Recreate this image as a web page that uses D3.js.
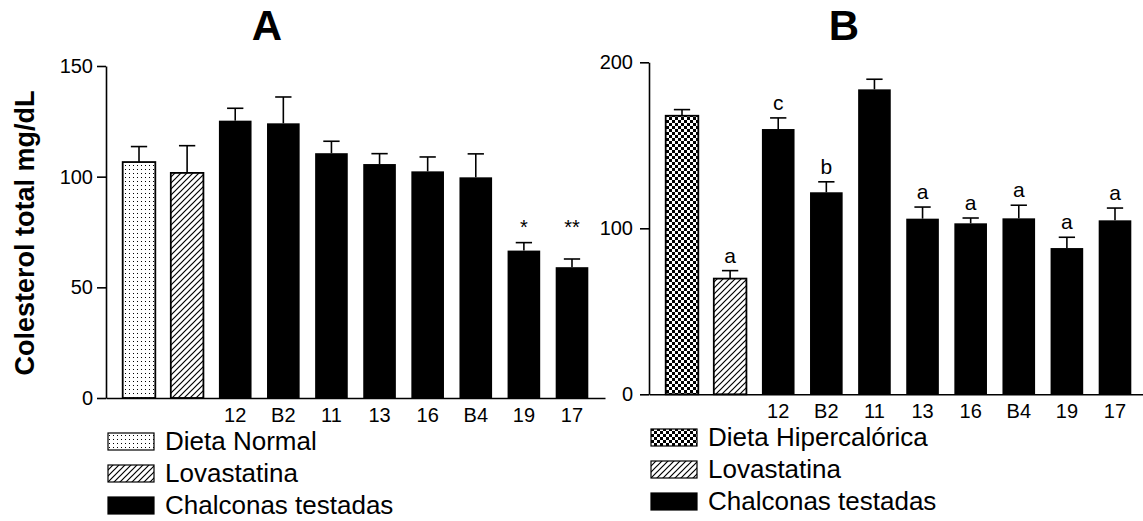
<!DOCTYPE html>
<html>
<head>
<meta charset="utf-8">
<script src="https://cdn.jsdelivr.net/npm/d3@7"></script>
<style>
  body { margin: 0; background: #fff; }
  text { font-family: "Liberation Sans", Arial, sans-serif; fill: #000; }
</style>
</head>
<body>
<div id="chart"></div>
<script>
// panel A: normal diet
const groupsA = ["Dieta Normal", "Lovastatina", "12", "B2", "11", "13", "16", "B4", "19", "17"]
const meansA = [106.6, 101.7, 125.3, 124.1, 110.6, 105.7, 102.4, 99.7, 66.6, 59.1]
const semA = [7.0, 12.3, 5.6, 11.9, 5.4, 4.7, 6.5, 10.6, 3.6, 3.7]
const fillA = ["dots", "hatch", "solid", "solid", "solid", "solid", "solid", "solid", "solid", "solid"]
const ticksA = [0, 50, 100, 150]
const starsA = [["19", "*"], ["17", "**"]]
const starLevelA = 74
const legendA = ["Dieta Normal", "Lovastatina", "Chalconas testadas"]

// panel B: hypercaloric diet
const groupsB = ["Dieta Hipercalórica", "Lovastatina", "12", "B2", "11", "13", "16", "B4", "19", "17"]
const meansB = [167.8, 69.7, 159.8, 121.7, 183.7, 105.8, 103.0, 106.0, 88.1, 104.8]
const semB = [3.7, 4.8, 6.7, 6.3, 6.1, 7.0, 3.2, 7.9, 6.5, 7.4]
const fillB = ["checker", "hatch", "solid", "solid", "solid", "solid", "solid", "solid", "solid", "solid"]
const ticksB = [0, 100, 200]
const lettersB = ["", "a", "c", "b", "", "a", "a", "a", "a", "a"]
const legendB = ["Dieta Hipercalórica", "Lovastatina", "Chalconas testadas"]

const width = 1143, height = 521

const svg = d3.select("#chart").append("svg")
    .attr("width", width)
    .attr("height", height)

const defs = svg.append("defs")

const dots = defs.append("pattern").attr("id", "dots")
    .attr("patternUnits", "userSpaceOnUse").attr("width", 4).attr("height", 4)
dots.append("rect").attr("width", 4).attr("height", 4).attr("fill", "#fff")
dots.append("rect").attr("x", 1).attr("y", 1).attr("width", 1).attr("height", 1).attr("fill", "#000")

const hatch = defs.append("pattern").attr("id", "hatch")
    .attr("patternUnits", "userSpaceOnUse").attr("width", 6).attr("height", 6)
hatch.append("rect").attr("width", 6).attr("height", 6).attr("fill", "#fff")
hatch.append("path")
    .attr("d", "M0,6L6,0M-1.5,1.5L1.5,-1.5M4.5,7.5L7.5,4.5")
    .attr("stroke", "#000").attr("stroke-width", 1.2)

const checker = defs.append("pattern").attr("id", "checker")
    .attr("patternUnits", "userSpaceOnUse").attr("width", 6).attr("height", 6)
checker.append("rect").attr("width", 6).attr("height", 6).attr("fill", "#fff")
checker.append("rect").attr("width", 3).attr("height", 3).attr("fill", "#000")
checker.append("rect").attr("x", 3).attr("y", 3).attr("width", 3).attr("height", 3).attr("fill", "#000")

const fillOf = f => f === "solid" ? "#000" : `url(#${f})`

function drawPanel(p) {
    const g = svg.append("g")

    const x = d3.scaleBand()
        .domain(p.groups)
        .range([p.left, p.right])
        .paddingInner(0.322)
        .paddingOuter(0.347)

    const y = d3.scaleLinear()
        .domain([0, p.max])
        .range([p.bottom, p.top])

    const data = p.groups.map((k, i) => ({ key: k, mean: p.means[i], sem: p.sem[i], fill: p.fills[i], i: i }))

    // bars
    g.selectAll(".bar")
        .data(data)
        .enter().append("rect")
        .attr("class", "bar")
        .attr("x", d => x(d.key))
        .attr("y", d => y(d.mean))
        .attr("width", x.bandwidth())
        .attr("height", d => y(0) - y(d.mean))
        .attr("fill", d => fillOf(d.fill))
        .attr("stroke", "#000")
        .attr("stroke-width", d => d.fill === "solid" ? 0 : 1.8)

    // upper error bars
    const err = g.selectAll(".err")
        .data(data)
        .enter().append("g")
        .attr("class", "err")
        .attr("stroke", "#000")
        .attr("stroke-width", 1.6)
    err.append("line")
        .attr("x1", d => x(d.key) + x.bandwidth() / 2)
        .attr("x2", d => x(d.key) + x.bandwidth() / 2)
        .attr("y1", d => y(d.mean))
        .attr("y2", d => y(d.mean + d.sem))
    err.append("line")
        .attr("x1", d => x(d.key) + x.bandwidth() / 4)
        .attr("x2", d => x(d.key) + x.bandwidth() * 3 / 4)
        .attr("y1", d => y(d.mean + d.sem))
        .attr("y2", d => y(d.mean + d.sem))

    // y axis
    const yAxis = g.append("g")
        .attr("transform", `translate(${p.left},0)`)
        .call(d3.axisLeft(y).tickValues(p.ticks).tickSize(9).tickSizeOuter(0).tickPadding(p.tickPad))
    yAxis.selectAll("text").attr("font-size", 20).style("font-family", "Liberation Sans, Arial, sans-serif")

    // x axis, only the chalcones get labels
    const xAxis = g.append("g")
        .attr("transform", `translate(0,${p.bottom})`)
        .call(d3.axisBottom(x).tickSize(0).tickSizeOuter(0).tickPadding(10)
            .tickFormat((d, i) => p.fills[i] === "solid" ? d : ""))
    xAxis.selectAll("text").attr("font-size", 20).style("font-family", "Liberation Sans, Arial, sans-serif")

    svg.selectAll(".domain, .tick line").attr("stroke", "#000").attr("stroke-width", 1.6)

    // title
    g.append("text")
        .attr("x", p.titleX)
        .attr("y", 40)
        .attr("text-anchor", "middle")
        .attr("font-size", 42)
        .attr("font-weight", "bold")
        .text(p.title)

    // legend
    const legend = g.selectAll(".legend")
        .data(p.legend)
        .enter().append("g")
        .attr("class", "legend")
        .attr("transform", (d, i) => `translate(${p.left + 2},${p.legendY + i * 32})`)
    legend.append("rect")
        .attr("x", 0)
        .attr("y", -17)
        .attr("width", 46)
        .attr("height", 17)
        .attr("fill", (d, i) => fillOf(p.legendFills[i]))
        .attr("stroke", "#000")
        .attr("stroke-width", 1.2)
    legend.append("text")
        .attr("x", 57)
        .attr("y", 0)
        .attr("font-size", 26)
        .text(d => d)

    return { g, x, y, data }
}

const A = drawPanel({
    groups: groupsA, means: meansA, sem: semA, fills: fillA, ticks: ticksA,
    left: 106, right: 605, top: 66, bottom: 398, max: 150, tickPad: 4,
    title: "A", titleX: 267, legend: legendA, legendY: 450,
    legendFills: ["dots", "hatch", "solid"]
})

const B = drawPanel({
    groups: groupsB, means: meansB, sem: semB, fills: fillB, ticks: ticksB,
    left: 649, right: 1148, top: 62.3, bottom: 394.3, max: 200, tickPad: 7,
    title: "B", titleX: 844, legend: legendB, legendY: 446,
    legendFills: ["checker", "hatch", "solid"]
})

// significance marks on A
A.g.selectAll(".star")
    .data(starsA)
    .enter().append("text")
    .attr("class", "star")
    .attr("x", d => A.x(d[0]) + A.x.bandwidth() / 2)
    .attr("y", A.y(starLevelA))
    .attr("text-anchor", "middle")
    .attr("font-size", 20)
    .text(d => d[1])

// group letters on B
B.g.selectAll(".letter")
    .data(B.data.filter(d => lettersB[d.i] !== ""))
    .enter().append("text")
    .attr("class", "letter")
    .attr("x", d => B.x(d.key) + B.x.bandwidth() / 2)
    .attr("y", d => B.y(d.mean + d.sem) - 8)
    .attr("text-anchor", "middle")
    .attr("font-size", 21)
    .text(d => lettersB[d.i])

// y axis label
svg.append("text")
    .attr("transform", "translate(34,233) rotate(-90)")
    .attr("text-anchor", "middle")
    .attr("font-size", 27)
    .attr("font-weight", "bold")
    .text("Colesterol total mg/dL")
</script>
</body>
</html>
